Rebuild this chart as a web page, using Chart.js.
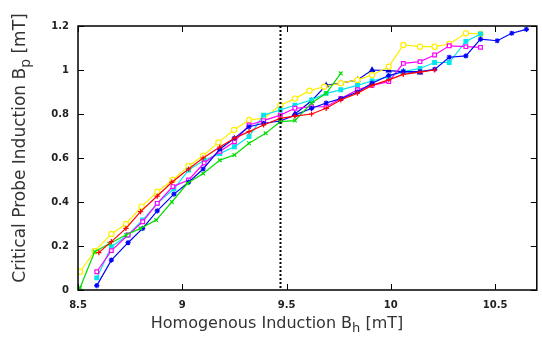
<!DOCTYPE html>
<html>
<head>
<meta charset="utf-8">
<script src="https://cdn.jsdelivr.net/npm/chart.js@4"></script>
<style>
  html, body { margin: 0; padding: 0; background: #fff; }
  #wrap { width: 542px; height: 338px; }
</style>
</head>
<body>
<div id="wrap"><canvas id="chart" width="542" height="338"></canvas></div>
<script>
// tick labels
const xTicks = [8.5, 9, 9.5, 10, 10.5];
const yTicks = [0, 0.2, 0.4, 0.6, 0.8, 1, 1.2];
const markerLine = 9.47;

// axis titles: [main text, subscript, rest]
const xTitle = ['Homogenous Induction B', 'h', ' [mT]'];
const yTitle = ['Critical Probe Induction B', 'p', ' [mT]'];

// red (+)
const redX = [8.60, 8.66, 8.73, 8.80, 8.88, 8.95, 9.03, 9.10, 9.18, 9.25, 9.32, 9.39, 9.47, 9.54, 9.62, 9.69, 9.76, 9.84, 9.91, 9.99, 10.06, 10.14, 10.21];
const redY = [0.17, 0.22, 0.28, 0.356, 0.427, 0.49, 0.55, 0.60, 0.65, 0.69, 0.72, 0.75, 0.78, 0.79, 0.80, 0.826, 0.864, 0.895, 0.93, 0.955, 0.98, 0.99, 1.0];
// green (x)
const greenX = [8.51, 8.58, 8.65, 8.73, 8.80, 8.875, 8.95, 9.025, 9.10, 9.18, 9.25, 9.32, 9.40, 9.47, 9.54, 9.62, 9.69, 9.76];
const greenY = [0.01, 0.174, 0.21, 0.25, 0.28, 0.318, 0.40, 0.485, 0.53, 0.59, 0.614, 0.667, 0.712, 0.765, 0.77, 0.85, 0.894, 0.985];
// blue (*)
const blueX = [8.59, 8.66, 8.74, 8.81, 8.88, 8.96, 9.03, 9.10, 9.18, 9.25, 9.32, 9.39, 9.47, 9.54, 9.62, 9.69, 9.76, 9.84, 9.91, 9.99, 10.06, 10.14, 10.21, 10.28, 10.36, 10.43, 10.51, 10.58, 10.65];
const blueY = [0.02, 0.136, 0.215, 0.28, 0.36, 0.436, 0.49, 0.55, 0.64, 0.69, 0.742, 0.758, 0.768, 0.795, 0.826, 0.85, 0.87, 0.90, 0.94, 0.975, 0.993, 0.993, 1.003, 1.058, 1.064, 1.14, 1.133, 1.167, 1.185];
// magenta (open square)
const magentaX = [8.59, 8.66, 8.74, 8.81, 8.88, 8.955, 9.03, 9.105, 9.18, 9.25, 9.32, 9.39, 9.47, 9.54, 9.62, 9.69, 9.76, 9.84, 9.91, 9.99, 10.06, 10.14, 10.21, 10.28, 10.36, 10.43];
const magentaY = [0.083, 0.179, 0.25, 0.31, 0.394, 0.47, 0.50, 0.577, 0.63, 0.674, 0.75, 0.77, 0.795, 0.826, 0.833, 0.833, 0.87, 0.91, 0.93, 0.947, 1.03, 1.038, 1.068, 1.11, 1.106, 1.103];
// cyan (filled square)
const cyanX = [8.59, 8.66, 8.74, 8.81, 8.88, 8.96, 9.03, 9.105, 9.18, 9.25, 9.32, 9.39, 9.47, 9.54, 9.62, 9.69, 9.76, 9.84, 9.91, 9.99, 10.06, 10.14, 10.21, 10.28, 10.36, 10.43];
const cyanY = [0.055, 0.197, 0.25, 0.318, 0.394, 0.46, 0.545, 0.59, 0.62, 0.651, 0.697, 0.795, 0.818, 0.84, 0.864, 0.894, 0.91, 0.93, 0.95, 0.97, 0.993, 1.007, 1.034, 1.034, 1.13, 1.164];
// yellow (open circle)
const yellowX = [8.51, 8.58, 8.66, 8.73, 8.805, 8.88, 8.954, 9.03, 9.10, 9.173, 9.248, 9.32, 9.39, 9.47, 9.54, 9.61, 9.68, 9.76, 9.84, 9.91, 9.99, 10.06, 10.14, 10.21, 10.28, 10.36, 10.43];
const yellowY = [0.083, 0.177, 0.255, 0.30, 0.379, 0.447, 0.50, 0.564, 0.61, 0.671, 0.727, 0.773, 0.78, 0.84, 0.87, 0.906, 0.924, 0.94, 0.955, 0.977, 1.015, 1.114, 1.106, 1.106, 1.118, 1.167, 1.164];
// blue (filled triangle)
const blue2X = [9.54, 9.62, 9.69, 9.76, 9.84, 9.91, 9.99, 10.06, 10.14];
const blue2Y = [0.80, 0.86, 0.93, 0.94, 0.955, 1.0, 0.997, 0.993, 0.988];

function pts(xs, ys) {
  return xs.map((x, i) => ({ x: x, y: ys[i] }));
}

function series(xs, ys, color, style, fill) {
  return {
    data: pts(xs, ys),
    borderColor: color,
    backgroundColor: fill,
    pointBorderColor: color,
    pointBackgroundColor: fill,
    pointStyle: style,
    pointRadius: 2.6,
    pointBorderWidth: 1.2,
    borderWidth: 1.2,
    showLine: true,
    tension: 0
  };
}

// title with a subscript, drawn centred at (0,0) of the current transform
function drawSubTitle(ctx, parts, size) {
  const big = size + 'px "DejaVu Sans"', small = Math.round(size * 0.82) + 'px "DejaVu Sans"';
  ctx.font = big;
  const w0 = ctx.measureText(parts[0]).width;
  const w2 = ctx.measureText(parts[2]).width;
  ctx.font = small;
  const w1 = ctx.measureText(parts[1]).width;
  let x = -(w0 + w1 + w2) / 2;
  ctx.textBaseline = 'middle';
  ctx.textAlign = 'left';
  ctx.font = big;
  ctx.fillText(parts[0], x, 0);
  x += w0;
  ctx.font = small;
  ctx.fillText(parts[1], x, 5);
  x += w1;
  ctx.font = big;
  ctx.fillText(parts[2], x, 0);
}

// box, inward ticks on all sides, dotted marker line, axis titles
const frame = {
  id: 'frame',
  afterDatasetsDraw(chart) {
    const ctx = chart.ctx;
    const a = chart.chartArea;
    const xs = chart.scales.x, ys = chart.scales.y;
    ctx.save();
    ctx.strokeStyle = '#000';
    ctx.lineWidth = 1.5;
    ctx.strokeRect(a.left, a.top, a.right - a.left, a.bottom - a.top);
    ctx.lineWidth = 1;
    xTicks.forEach(v => {
      const p = Math.round(xs.getPixelForValue(v)) + 0.5;
      ctx.beginPath();
      ctx.moveTo(p, a.bottom); ctx.lineTo(p, a.bottom - 6);
      ctx.moveTo(p, a.top); ctx.lineTo(p, a.top + 6);
      ctx.stroke();
    });
    yTicks.forEach(v => {
      const p = Math.round(ys.getPixelForValue(v)) + 0.5;
      ctx.beginPath();
      ctx.moveTo(a.left, p); ctx.lineTo(a.left + 6, p);
      ctx.moveTo(a.right, p); ctx.lineTo(a.right - 6, p);
      ctx.stroke();
    });
    const mx = Math.round(xs.getPixelForValue(markerLine)) + 0.5;
    ctx.lineWidth = 2;
    ctx.setLineDash([2, 2]);
    ctx.beginPath();
    ctx.moveTo(mx, a.top); ctx.lineTo(mx, a.bottom);
    ctx.stroke();
    ctx.setLineDash([]);

    ctx.fillStyle = '#333';
    ctx.save();
    ctx.translate(277, 324);
    drawSubTitle(ctx, xTitle, 16);
    ctx.restore();
    ctx.save();
    ctx.translate(21, 148);
    ctx.rotate(-Math.PI / 2);
    drawSubTitle(ctx, yTitle, 17);
    ctx.restore();
    ctx.restore();
  }
};

const chart = new Chart(document.getElementById('chart'), {
  type: 'scatter',
  data: {
    datasets: [
      series(redX, redY, '#ff0000', 'cross', '#ff0000'),
      series(greenX, greenY, '#00dd00', 'crossRot', '#00dd00'),
      series(blueX, blueY, '#0000ff', 'star', '#0000ff'),
      series(magentaX, magentaY, '#ff00ff', 'rect', '#ffffff'),
      series(cyanX, cyanY, '#00e5ee', 'rect', '#00e5ee'),
      series(yellowX, yellowY, '#ffee00', 'circle', '#ffffff'),
      series(blue2X, blue2Y, '#0000dd', 'triangle', '#0000dd')
    ]
  },
  options: {
    responsive: false,
    animation: false,
    layout: { padding: { top: 26, right: 2, left: 0, bottom: 0 } },
    plugins: { legend: { display: false }, tooltip: { enabled: false } },
    scales: {
      x: {
        type: 'linear',
        min: 8.5,
        max: 10.7,
        afterBuildTicks: s => { s.ticks = xTicks.map(v => ({ value: v })); },
        afterFit: s => { s.height = 48; },
        grid: { display: false, drawTicks: false },
        border: { display: false },
        ticks: {
          color: '#222',
          font: { family: 'DejaVu Sans', size: 10, weight: 'bold' },
          padding: 9,
          maxRotation: 0,
          callback: v => String(v)
        }
      },
      y: {
        type: 'linear',
        min: 0,
        max: 1.2,
        afterBuildTicks: s => { s.ticks = yTicks.map(v => ({ value: v })); },
        afterFit: s => { s.width = 78; },
        grid: { display: false, drawTicks: false },
        border: { display: false },
        ticks: {
          color: '#222',
          font: { family: 'DejaVu Sans', size: 10, weight: 'bold' },
          padding: 9,
          callback: v => String(v)
        }
      }
    }
  },
  plugins: [frame]
});
</script>
</body>
</html>
